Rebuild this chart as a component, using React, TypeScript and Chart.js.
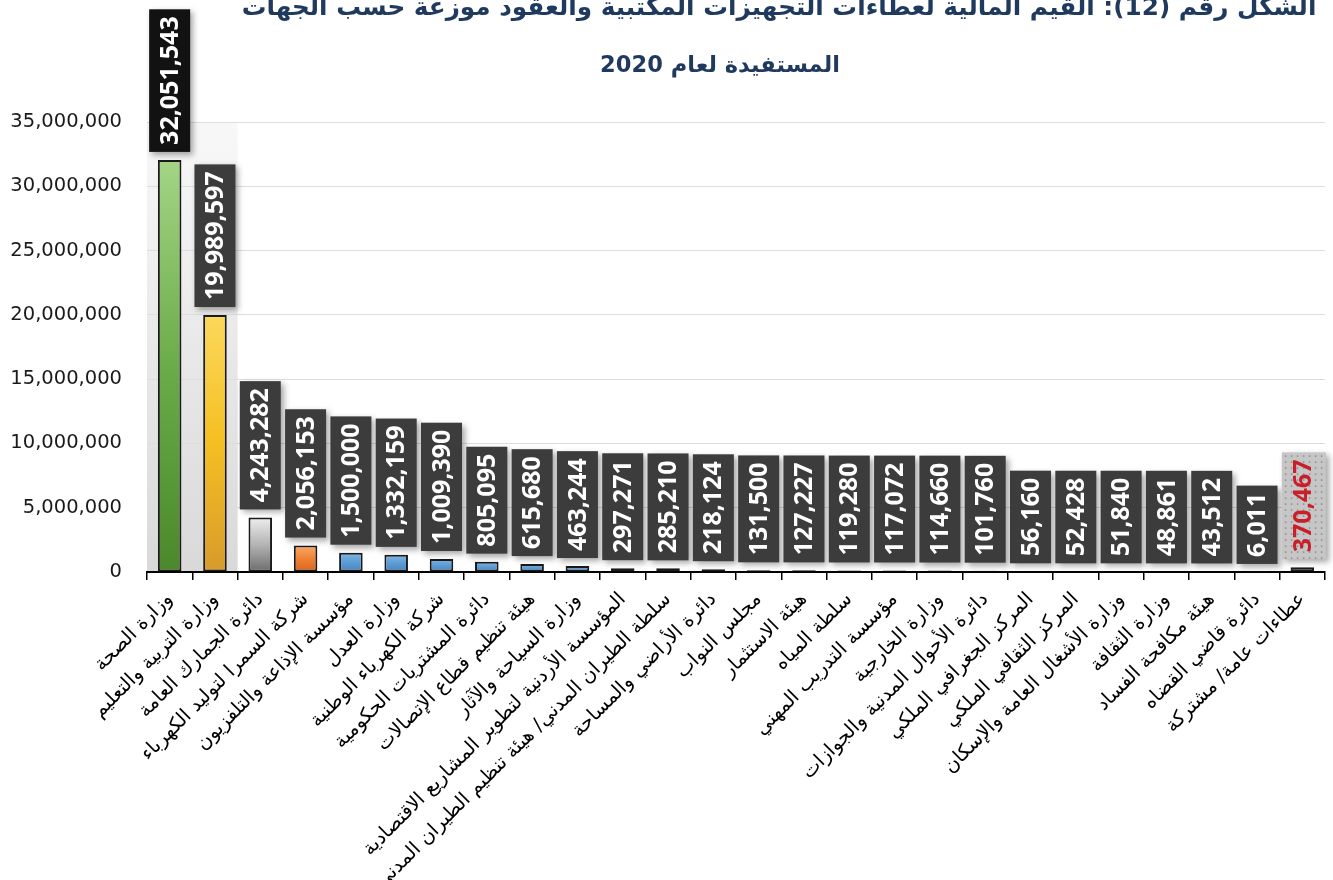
import React, { useEffect, useRef } from "react";
import { Chart, registerables } from "chart.js";

Chart.register(...registerables);

const TITLE_LINE_1 =
  "الشكل رقم (12): القيم المالية لعطاءات التجهيزات المكتبية والعقود موزعة حسب الجهات";
const TITLE_LINE_2 = "المستفيدة لعام 2020";

const categories = [
  "وزارة الصحة",
  "وزارة التربية والتعليم",
  "دائرة الجمارك العامة",
  "شركة السمرا لتوليد الكهرباء",
  "مؤسسة الإذاعة والتلفزيون",
  "وزارة العدل",
  "شركة الكهرباء الوطنية",
  "دائرة المشتريات الحكومية",
  "هيئة تنظيم قطاع الإتصالات",
  "وزارة السياحة والآثار",
  "المؤسسة الأردنية لتطوير المشاريع الاقتصادية",
  "سلطة الطيران المدني/ هيئة تنظيم الطيران المدني",
  "دائرة الأراضي والمساحة",
  "مجلس النواب",
  "هيئة الاستثمار",
  "سلطة المياه",
  "مؤسسة التدريب المهني",
  "وزارة الخارجية",
  "دائرة الأحوال المدنية والجوازات",
  "المركز الجغرافي الملكي",
  "المركز الثقافي الملكي",
  "وزارة الأشغال العامة والإسكان",
  "وزارة الثقافة",
  "هيئة مكافحة الفساد",
  "دائرة قاضي القضاه",
  "عطاءات عامة/ مشتركة",
];

const values = [
  32051543, 19989597, 4243282, 2056153, 1500000, 1332159, 1009390, 805095,
  615680, 463244, 297271, 285210, 218124, 131500, 127227, 119280, 117072,
  114660, 101760, 56160, 52428, 51840, 48861, 43512, 6011, 370467,
];

const yAxisMin = 0;
const yAxisMax = 35000000;
const yAxisStep = 5000000;

// style keys per bar (not data)
const barStyleKeys = [
  "green", "gold", "silver", "orange",
  "blue", "blue", "blue", "blue", "blue", "blue", "blue", "blue", "blue",
  "blue", "blue", "blue", "blue", "blue", "blue", "blue", "blue", "blue",
  "blue", "blue", "blue", "slate",
];

const gradientStops: Record<string, string[]> = {
  green: ["#a3d585", "#6cab4a", "#4a882b"],
  gold: ["#fbd85c", "#f4bf22", "#d69b2c"],
  silver: ["#eeeeee", "#b4b4b4", "#6c6c6c"],
  orange: ["#f8aa6a", "#ef8134", "#d8641c"],
  blue: ["#82b5e4", "#5b9bd5", "#4884bf"],
  slate: ["#6f88a9", "#4e688a", "#3a5373"],
};

const fmt = (v: number) => v.toLocaleString("en-US");

function barGradient(c: any) {
  const chart = c.chart;
  const i = c.dataIndex;
  const stops = gradientStops[barStyleKeys[i]] || gradientStops.blue;
  const area = chart.chartArea;
  if (!area || i === undefined) return stops[1];
  const yScale = chart.scales.y;
  const top = yScale.getPixelForValue(values[i]);
  const bottom = yScale.getPixelForValue(0);
  const g = chart.ctx.createLinearGradient(0, top, 0, Math.max(bottom, top + 1));
  g.addColorStop(0, stops[0]);
  g.addColorStop(0.5, stops[1]);
  g.addColorStop(1, stops[2]);
  return g;
}

const sideWallPlugin = {
  id: "sideWall",
  beforeDraw(chart: any) {
    const { ctx, chartArea } = chart;
    if (!chartArea) return;
    const xs = chart.scales.x;
    const right = xs.getPixelForValue(1) + (xs.getPixelForValue(1) - xs.getPixelForValue(0)) / 2;
    ctx.save();
    const g = ctx.createLinearGradient(0, chartArea.top, 0, chartArea.bottom);
    g.addColorStop(0, "#f8f8f8");
    g.addColorStop(1, "#d9d9d9");
    ctx.fillStyle = g;
    ctx.fillRect(chartArea.left, chartArea.top, right - chartArea.left, chartArea.bottom - chartArea.top);
    ctx.restore();
  },
};

function fitFontSize(ctx: any, text: string, font: (s: number) => string, target: number) {
  ctx.font = font(20);
  const w = ctx.measureText(text).width;
  return (20 * target) / w;
}

const titlePlugin = {
  id: "arTitle",
  afterDraw(chart: any) {
    const ctx = chart.ctx;
    ctx.save();
    ctx.fillStyle = "#1f3a5e";
    ctx.textAlign = "center";
    ctx.textBaseline = "alphabetic";
    ctx.direction = "rtl";
    const f = (s: number) => `bold ${s}px "DejaVu Sans"`;
    const s1 = fitFontSize(ctx, TITLE_LINE_1, f, 1075);
    ctx.font = f(s1);
    ctx.fillText(TITLE_LINE_1, 779, 15);
    const s2 = fitFontSize(ctx, TITLE_LINE_2, f, 240);
    ctx.font = f(s2);
    ctx.fillText(TITLE_LINE_2, 720, 72);
    ctx.restore();
  },
};

const valueBoxPlugin = {
  id: "valueBoxes",
  afterDatasetsDraw(chart: any) {
    const ctx = chart.ctx;
    const meta = chart.getDatasetMeta(0);
    ctx.save();
    ctx.font = 'bold 25px "Open Sans"';
    meta.data.forEach((bar: any, i: number) => {
      const text = fmt(values[i]);
      const tw = ctx.measureText(text).width;
      const w = 41;
      const h = tw + 14;
      const bottom = bar.y - 8;
      const top = bottom - h;
      const left = bar.x - w / 2;
      const last = i === values.length - 1;

      ctx.save();
      ctx.shadowColor = "rgba(0,0,0,0.35)";
      ctx.shadowBlur = 6;
      ctx.shadowOffsetX = 3;
      ctx.shadowOffsetY = 3;
      ctx.fillStyle = i === 0 ? "#121212" : last ? "#c6c6c6" : "#3c3c3c";
      ctx.fillRect(left, top, w + (last ? 3 : 0), h);
      ctx.restore();

      if (last) {
        ctx.save();
        ctx.fillStyle = "#8c8c8c";
        for (let yy = top + 3; yy < bottom - 1; yy += 6) {
          for (let xx = left + 3; xx < left + w + 2; xx += 6) {
            ctx.fillRect(xx, yy, 1.5, 1.5);
          }
        }
        ctx.restore();
      }

      ctx.save();
      ctx.translate(bar.x + (last ? 1 : 0), bottom - h / 2);
      ctx.rotate(-Math.PI / 2);
      ctx.textAlign = "center";
      ctx.textBaseline = "middle";
      ctx.fillStyle = last ? "#c8202a" : "#ffffff";
      ctx.fillText(text, 0, 1);
      ctx.restore();
    });
    ctx.restore();
  },
};

export default function App() {
  const ref = useRef<HTMLCanvasElement | null>(null);

  useEffect(() => {
    if (!ref.current) return;
    const chart = new Chart(ref.current, {
      type: "bar",
      data: {
        labels: categories,
        datasets: [
          {
            data: values,
            backgroundColor: barGradient as any,
            borderColor: "#1a1a1a",
            borderWidth: 2,
            borderSkipped: false,
            barPercentage: 0.52,
            categoryPercentage: 1,
          },
        ],
      },
      options: {
        responsive: false,
        animation: false,
        devicePixelRatio: 1,
        layout: { padding: { top: 122, left: 0, right: 8, bottom: 0 } },
        plugins: {
          legend: { display: false },
          title: { display: false },
          tooltip: { enabled: false },
        },
        scales: {
          x: {
            afterFit: (s: any) => {
              s.height = 308;
            },
            grid: {
              offset: true,
              drawOnChartArea: false,
              drawTicks: true,
              tickLength: 8,
              color: "#000000",
              lineWidth: 1.5,
            },
            border: { display: true, color: "#000000", width: 2 },
            ticks: {
              autoSkip: false,
              maxRotation: 45,
              minRotation: 45,
              padding: 8,
              color: "#000000",
              font: { family: '"DejaVu Sans"', size: 19.5 },
            },
          },
          y: {
            min: yAxisMin,
            max: yAxisMax,
            afterFit: (s: any) => {
              s.width = 147;
            },
            border: { display: false },
            grid: {
              color: "#dddddd",
              lineWidth: 1,
              drawTicks: false,
            },
            ticks: {
              stepSize: yAxisStep,
              padding: 25,
              color: "#1a1a1a",
              font: { family: '"DejaVu Sans"', size: 19.5 },
              callback: (v: any) => fmt(Number(v)),
            },
          },
        },
      },
      plugins: [sideWallPlugin, valueBoxPlugin, titlePlugin],
    });
    return () => chart.destroy();
  }, []);

  return (
    <div style={{ position: "absolute", left: 0, top: 0, width: 1333, height: 880, background: "#ffffff" }}>
      <canvas ref={ref} width={1333} height={880} style={{ width: 1333, height: 880, display: "block" }} />
    </div>
  );
}
